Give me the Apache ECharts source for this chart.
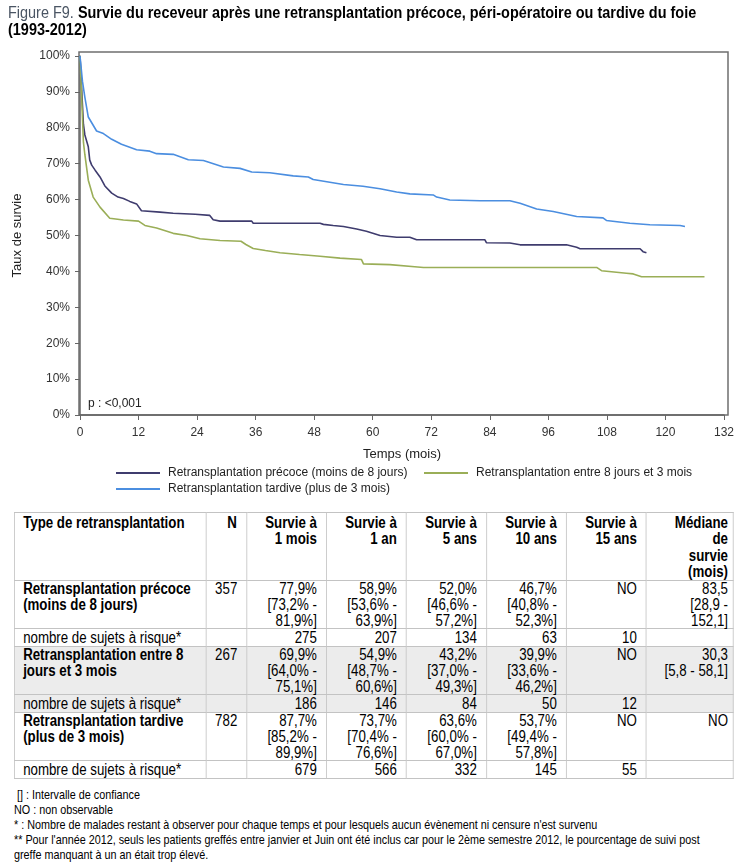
<!DOCTYPE html>
<html><head><meta charset="utf-8">
<script src="https://cdn.jsdelivr.net/npm/echarts@6/dist/echarts.min.js"></script>
<style>
html,body{margin:0;padding:0;background:#fff;}
body{width:744px;height:864px;position:relative;overflow:hidden;font-family:"Liberation Sans",Arial,sans-serif;color:#000;}
#title{position:absolute;left:8px;top:4px;font-size:17px;line-height:17px;font-weight:bold;white-space:nowrap;transform:scaleX(0.85);transform-origin:0 0;}
#title .fig{font-weight:normal;color:#4a5563;}
#chart{position:absolute;left:0;top:0;width:744px;height:500px;}
#tbl{position:absolute;left:14px;top:512px;border-collapse:collapse;table-layout:fixed;font-size:16px;line-height:16px;transform:scaleX(0.83);transform-origin:0 0;}
#tbl td,#tbl th{border:1px solid #c3c3c3;padding:0 11px 0 10px;vertical-align:top;white-space:nowrap;overflow:visible;}
#tbl th{font-weight:bold;text-align:right;line-height:16.3px;}
#tbl th div{height:67px;padding-top:2px;box-sizing:border-box;}
#tbl .l{text-align:left !important;}
#tbl td{text-align:right;}
#tbl tr.main td div{height:47px;}
#tbl tr.main td.l{font-weight:bold;}
#tbl tr.risk td div{height:17px;padding-top:1px;box-sizing:border-box;}
#tbl tr.g td{background:#ececec;}
#tbl td.last,#tbl th.last{padding-right:6px;}
#notes{position:absolute;left:14px;top:787px;font-size:13px;line-height:15px;white-space:nowrap;transform:scaleX(0.83);transform-origin:0 0;}
</style></head>
<body>
<div id="chart"></div>
<div id="title"><span class="fig">Figure F9.</span> Survie du receveur après une retransplantation précoce, péri-opératoire ou tardive du foie<br>(1993-2012)</div>
<table id="tbl"></table>
<div id="notes"></div>
<script>
// ---- Curve data (months, survival %) ----
const preTime  = [0,0.3,0.7,1.0,1.7,2.0,2.4,3.1,4.1,5.1,5.5,6.5,6.8,7.8,8.9,10.2,11.6,12.0,12.6,16.4,19.1,23.6,26.6,27.3,28.7,35.2,35.5,49.2,49.9,51.9,54.0,56.7,58.7,61.5,64.9,67.6,69.0,83.0,83.3,88.1,90.2,99.7,101.8,102.5,114.8,115.4,116.1];
const preSurv  = [100,92,81,78,74.7,71,69.6,68.2,66.3,63.8,63.3,61.8,61.4,60.7,60.3,59.5,58.8,58.4,56.9,56.5,56.2,55.9,55.6,54.4,54.0,54.0,53.4,53.4,53.1,52.8,52.5,51.8,51.2,50.0,49.5,49.5,48.8,48.8,48.0,47.9,47.4,47.4,46.7,46.3,46.3,45.5,45.2];
const entTime  = [0,0.3,0.7,1.0,1.7,2.7,4.1,6.1,8.9,12.0,12.3,13.3,15.7,19.1,21.9,24.6,28.7,33.0,34.0,35.5,38.0,41.0,45.0,49.2,53.3,57.7,58.1,63.5,68.6,70.4,105.9,106.9,112.0,113.4,115.1,128.0];
const entSurv  = [100,90,76,72.5,65.4,60.7,57.9,54.8,54.3,54.0,53.7,52.8,52.1,50.6,50.0,49.1,48.6,48.4,47.5,46.4,45.8,45.2,44.7,44.2,43.7,43.3,42.1,41.9,41.3,41.1,41.1,40.2,39.5,39.3,38.5,38.5];
const tarTime  = [0,0.5,1.0,1.7,3.4,4.8,6.5,8.5,11.6,14.3,15.7,19.1,22.2,25.3,29.4,32.8,35.2,38.9,43.7,46.8,47.8,54.0,58.0,61.5,64.9,67.6,72.4,73.1,75.8,82.0,88.1,90.2,93.6,97.0,101.8,107.2,107.9,112.7,116.8,123.0,124.0];
const tarSurv  = [100,93,88.5,83,79.1,78.4,76.8,75.4,73.9,73.5,72.8,72.6,71.1,70.9,69.1,68.7,67.7,67.5,66.6,66.3,65.6,64.2,63.7,63.0,62.1,61.6,61.3,60.7,59.9,59.7,59.7,59.0,57.4,56.7,55.3,54.9,54.2,53.4,53.0,52.8,52.5];

const seriesNames = ["Retransplantation précoce (moins de 8 jours)","Retransplantation entre 8 jours et 3 mois","Retransplantation tardive (plus de 3 mois)"];
const pValue = "p : <0,001";

// ---- Table data ----
const tableHeaders = ["Type de retransplantation","N","Survie à<br>1 mois","Survie à<br>1 an","Survie à<br>5 ans","Survie à<br>10 ans","Survie à<br>15 ans","Médiane<br>de<br>survie<br>(mois)"];
const rowLabels = ["Retransplantation précoce<br>(moins de 8 jours)","Retransplantation entre 8<br>jours et 3 mois","Retransplantation tardive<br>(plus de 3 mois)"];
const rowN = ["357","267","782"];
const rowSurv = [
  ["77,9%<br>[73,2% -<br>81,9%]","58,9%<br>[53,6% -<br>63,9%]","52,0%<br>[46,6% -<br>57,2%]","46,7%<br>[40,8% -<br>52,3%]","NO","83,5<br>[28,9 -<br>152,1]"],
  ["69,9%<br>[64,0% -<br>75,1%]","54,9%<br>[48,7% -<br>60,6%]","43,2%<br>[37,0% -<br>49,3%]","39,9%<br>[33,6% -<br>46,2%]","NO","30,3<br>[5,8 - 58,1]"],
  ["87,7%<br>[85,2% -<br>89,9%]","73,7%<br>[70,4% -<br>76,6%]","63,6%<br>[60,0% -<br>67,0%]","53,7%<br>[49,4% -<br>57,8%]","NO","NO"]
];
const riskLabel = "nombre de sujets à risque*";
const riskCounts = [["275","207","134","63","10",""],["186","146","84","50","12",""],["679","566","332","145","55",""]];
const notes = ["&nbsp;[] : Intervalle de confiance","NO : non observable","* : Nombre de malades restant à observer pour chaque temps et pour lesquels aucun évènement ni censure n'est survenu","** Pour l'année 2012, seuls les patients greffés entre janvier et Juin ont été inclus car pour le 2ème semestre 2012, le pourcentage de suivi post","greffe manquant à un an était trop élevé."];

// build table (widths in unscaled px; table is compressed horizontally to emulate a narrow font)
const SX = 0.83;
const colW = [192,40,80,80,80,80,80,87].map(w=>w/SX);
const tbl = document.getElementById('tbl');
tbl.style.width = colW.reduce((a,b)=>a+b,0)+'px';
const cell = (tag,cls,content)=>'<'+tag+(cls?' class="'+cls+'"':'')+'><div>'+content+'</div></'+tag+'>';
let html = '<colgroup>' + colW.map(w=>'<col style="width:'+w+'px">').join('') + '</colgroup>';
html += '<tr>' + tableHeaders.map((h,i)=>cell('th', i===0?'l':(i===7?'last':''), h)).join('') + '</tr>';
rowLabels.forEach((lab,r)=>{
  const g = r===1 ? ' g' : '';
  html += '<tr class="main'+g+'">'+cell('td','l',lab)+cell('td','',rowN[r])+rowSurv[r].map((v,i)=>cell('td',i===5?'last':'',v)).join('')+'</tr>';
  html += '<tr class="risk'+g+'">'+cell('td','l',riskLabel)+cell('td','','')+riskCounts[r].map((v,i)=>cell('td',i===5?'last':'',v)).join('')+'</tr>';
});
tbl.innerHTML = html;
document.getElementById('notes').innerHTML = notes.join('<br>');

// ---- Chart ----
const colors = ['#3f3c6e','#9aae57','#4b8ee0'];
const zip = (a,b)=>a.map((t,i)=>[t,b[i]]);
const chart = echarts.init(document.getElementById('chart'), null, {renderer:'canvas'});
const FF = '"Liberation Sans", Arial, sans-serif';
const axisFont = {fontFamily:FF, fontSize:12, color:'#333'};
const legendText = {fontFamily:FF, fontSize:12, color:'#222', padding:[0,0,0,3]};
const mkLegend = (name,left,top)=>({data:[name], left:left, top:top, padding:0, itemWidth:44, itemHeight:2, icon:'rect', textStyle:legendText});
chart.setOption({
  animation:false,
  grid:{left:80, right:20, top:56, bottom:85},
  xAxis:{type:'value', min:0, max:132, interval:12,
    name:'Temps (mois)', nameLocation:'middle', nameGap:33,
    nameTextStyle:{fontFamily:FF, fontSize:13, color:'#222'},
    axisLine:{show:true, lineStyle:{color:'#666', width:1.5}},
    axisTick:{show:true, length:5, lineStyle:{color:'#666'}},
    axisLabel:Object.assign({margin:12}, axisFont),
    splitLine:{show:false}},
  yAxis:{type:'value', min:0, max:100, interval:10,
    name:'Taux de survie', nameLocation:'middle', nameGap:56,
    nameTextStyle:{fontFamily:FF, fontSize:13, color:'#222'},
    axisLine:{show:true, lineStyle:{color:'#666', width:1.5}},
    axisTick:{show:true, length:5, lineStyle:{color:'#666'}},
    axisLabel:Object.assign({margin:10, formatter:'{value}%'}, axisFont),
    splitLine:{show:false}},
  legend:[
    mkLegend(seriesNames[0],116,467),
    mkLegend(seriesNames[1],424,467),
    mkLegend(seriesNames[2],116,483)
  ],
  graphic:[
    {type:'rect', shape:{x:79, y:52, width:649, height:363}, style:{fill:'none', stroke:'#6f6f6f', lineWidth:1.5}, z:-1, silent:true},
    {type:'text', left:88, top:398, style:{text:pValue, fontFamily:FF, fontSize:12, fill:'#222'}}
  ],
  series:[
    {name:seriesNames[0], type:'line', data:zip(preTime,preSurv), showSymbol:false, symbol:'none', lineStyle:{color:colors[0], width:1.6}, itemStyle:{color:colors[0]}},
    {name:seriesNames[1], type:'line', data:zip(entTime,entSurv), showSymbol:false, symbol:'none', lineStyle:{color:colors[1], width:1.6}, itemStyle:{color:colors[1]}},
    {name:seriesNames[2], type:'line', data:zip(tarTime,tarSurv), showSymbol:false, symbol:'none', lineStyle:{color:colors[2], width:1.6}, itemStyle:{color:colors[2]}}
  ]
});
</script>
</body></html>
